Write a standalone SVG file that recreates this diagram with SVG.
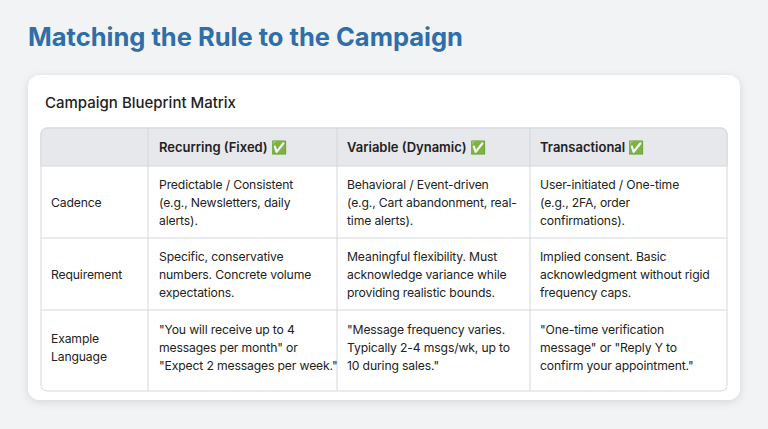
<svg xmlns="http://www.w3.org/2000/svg" width="768" height="429" viewBox="0 0 768 429">
<defs>
<filter id="sh" x="-5%" y="-5%" width="110%" height="115%"><feDropShadow dx="0" dy="2" stdDeviation="4" flood-color="#000" flood-opacity="0.12"/></filter>
<style>
text{font-family:Inter,"Noto Sans","Liberation Sans",sans-serif;fill:#222}
.h{font-weight:600;font-size:13px}
.c{font-size:12.2px;letter-spacing:-0.15px}
.g{stroke:#d4d7db;stroke-width:1;fill:none}
</style>
</defs>
<rect width="768" height="429" fill="#f1f3f4"/>
<text x="28" y="46" style="font-size:25.5px;font-weight:700;fill:#2f6ea8">Matching the Rule to the Campaign</text>
<g id="card">
<rect x="28" y="75" width="712" height="325" rx="12" fill="#fff" filter="url(#sh)"/>
<text x="45" y="108" style="font-size:15px;font-weight:500">Campaign Blueprint Matrix</text>
</g>
<g id="table">
<rect x="41" y="128" width="686" height="263" rx="6" fill="#fff" stroke="#d4d7db"/>
<path d="M47 128 H721 A6 6 0 0 1 727 134 V166 H41 V134 A6 6 0 0 1 47 128 Z" fill="#e6e8eb" stroke="#d4d7db"/>
</g>
<g id="connectors">
<path class="g" d="M41 238 H727 M41 310 H727 M148 128 V391 M337 128 V391 M530 128 V391"/>
</g>
<g id="header">
<text class="h" x="159" y="152">Recurring (Fixed) ✅</text>
<text class="h" x="347" y="152">Variable (Dynamic) ✅</text>
<text class="h" x="540" y="152">Transactional ✅</text>
</g>
<g id="row1">
<text class="c" x="51" y="207">Cadence</text>
<text class="c" x="159" y="189">Predictable / Consistent</text>
<text class="c" x="159" y="207">(e.g., Newsletters, daily</text>
<text class="c" x="159" y="225">alerts).</text>
<text class="c" x="347" y="189">Behavioral / Event-driven</text>
<text class="c" x="347" y="207">(e.g., Cart abandonment, real-</text>
<text class="c" x="347" y="225">time alerts).</text>
<text class="c" x="540" y="189">User-initiated / One-time</text>
<text class="c" x="540" y="207">(e.g., 2FA, order</text>
<text class="c" x="540" y="225">confirmations).</text>
</g>
<g id="row2">
<text class="c" x="51" y="279">Requirement</text>
<text class="c" x="159" y="261">Specific, conservative</text>
<text class="c" x="159" y="279">numbers. Concrete volume</text>
<text class="c" x="159" y="297">expectations.</text>
<text class="c" x="347" y="261">Meaningful flexibility. Must</text>
<text class="c" x="347" y="279">acknowledge variance while</text>
<text class="c" x="347" y="297">providing realistic bounds.</text>
<text class="c" x="540" y="261">Implied consent. Basic</text>
<text class="c" x="540" y="279">acknowledgment without rigid</text>
<text class="c" x="540" y="297">frequency caps.</text>
</g>
<g id="row3">
<text class="c" x="51" y="343">Example</text>
<text class="c" x="51" y="361">Language</text>
<text class="c" x="159" y="334">"You will receive up to 4</text>
<text class="c" x="159" y="352">messages per month" or</text>
<text class="c" x="159" y="370">"Expect 2 messages per week."</text>
<text class="c" x="347" y="334">"Message frequency varies.</text>
<text class="c" x="347" y="352">Typically 2-4 msgs/wk, up to</text>
<text class="c" x="347" y="370">10 during sales."</text>
<text class="c" x="540" y="334">"One-time verification</text>
<text class="c" x="540" y="352">message" or "Reply Y to</text>
<text class="c" x="540" y="370">confirm your appointment."</text>
</g>
</svg>
